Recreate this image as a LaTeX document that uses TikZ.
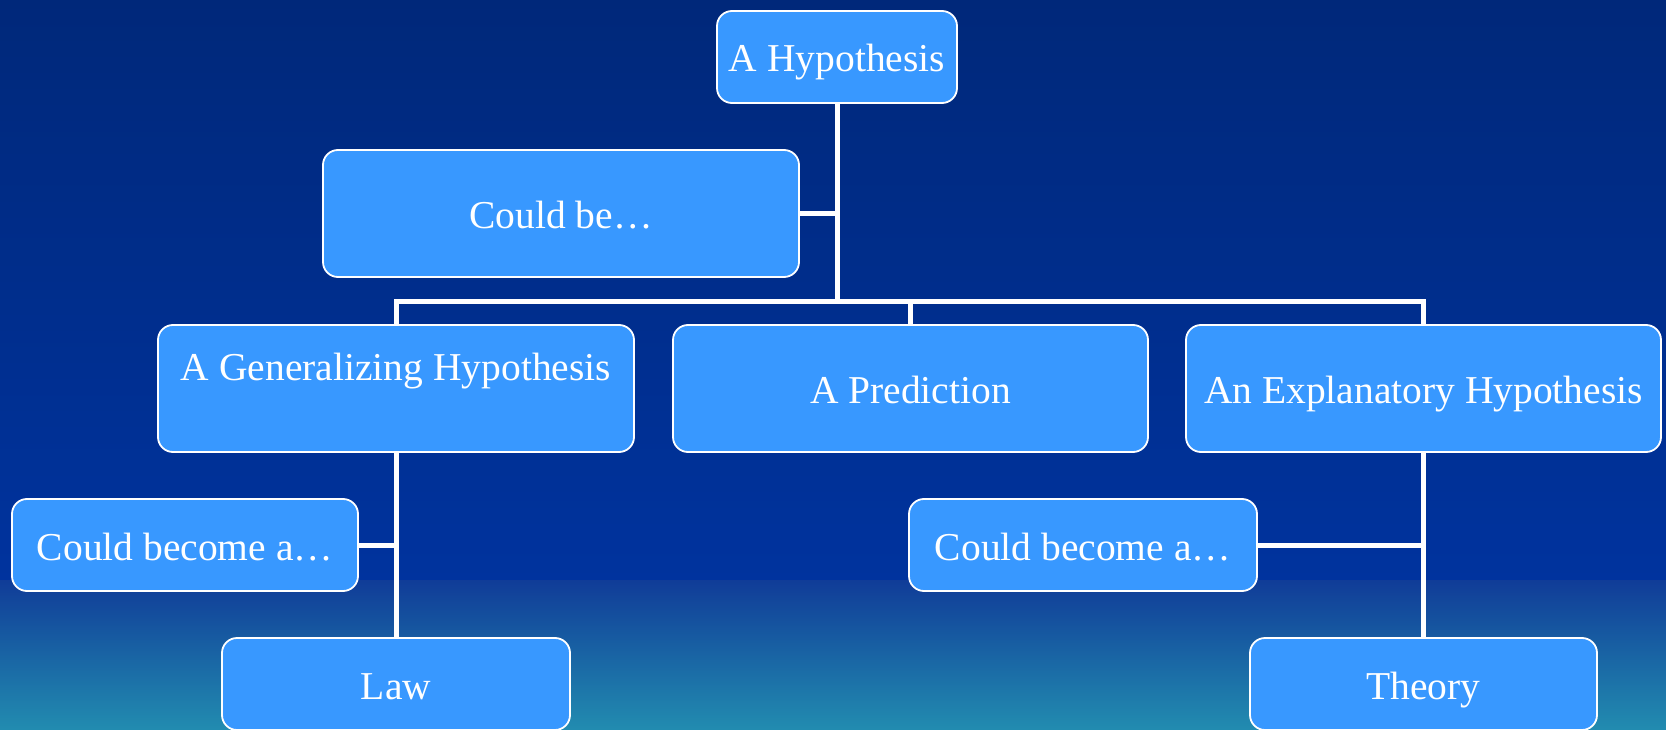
\documentclass[tikz,border=0pt]{standalone}
\usepackage{fontspec}
\setmainfont{Liberation Serif}
\newfontfamily\timesfont{Liberation Serif}
\definecolor{boxblue}{RGB}{56,152,255}
\definecolor{bgtop}{RGB}{0,40,122}
\definecolor{bgmid}{RGB}{0,51,158}
\definecolor{bgband}{RGB}{16,60,152}
\definecolor{bgbot}{RGB}{34,140,176}
\tikzset{
  box/.style={draw=white, line width=1.8pt, fill=boxblue, rounded corners=15pt,
    inner sep=0pt, text=white, font=\timesfont\fontsize{39.5}{46}\selectfont,
    text height=30pt, text depth=0pt},
  conn/.style={draw=white, line width=5pt, line cap=butt, line join=miter},
  lbl/.style={text=white, font=\timesfont\fontsize{39.5}{46}\selectfont, inner sep=0pt}
}
\begin{document}
\begin{tikzpicture}[x=1pt,y=-1pt]
\useasboundingbox (0,0) rectangle (1666,730);
% background
\shade[top color=bgtop, bottom color=bgmid] (0,0) rectangle (1666,580);
\shade[top color=bgband, bottom color=bgbot] (0,580) rectangle (1666,730);

% nodes
\node[box, minimum width=240, minimum height=92] (hyp) at (837,57) {A Hypothesis};
\node[box, minimum width=476, minimum height=127] (could) at (561,213.5) {Could be\ldots};
\node[box, minimum width=476, minimum height=127] (gen) at (396,388.5) {};
\node[lbl, anchor=base] (genlbl) at (396,380) {A Generalizing Hypothesis};
\node[box, minimum width=475, minimum height=127] (pred) at (910.5,388.5) {A Prediction};
\node[box, minimum width=475, minimum height=127] (expl) at (1423.5,388.5) {An Explanatory Hypothesis};
\node[box, minimum width=346, minimum height=92] (cbl) at (185,545) {Could become a\ldots};
\node[box, minimum width=348, minimum height=92] (law) at (396,684) {Law};
\node[box, minimum width=348, minimum height=92] (cbr) at (1083,545) {Could become a\ldots};
\node[box, minimum width=347, minimum height=92] (theory) at (1423.5,684) {Theory};

% connectors
\coordinate (busc) at (837,301);
\draw[conn] (hyp.south) -- ([yshift=-2.5pt]busc);
\draw[conn] (could.east) -- (could.east -| busc);
\draw[conn] (gen.north) -- (gen.north |- busc) -- (expl.north |- busc) -- (expl.north);
\draw[conn] (pred.north) -- (pred.north |- busc);
\draw[conn] (gen.south) -- (law.north);
\draw[conn] (cbl.east) -- (cbl.east -| gen.south);
\draw[conn] (expl.south) -- (theory.north);
\draw[conn] (cbr.east) -- (cbr.east -| expl.south);
\end{tikzpicture}
\end{document}
